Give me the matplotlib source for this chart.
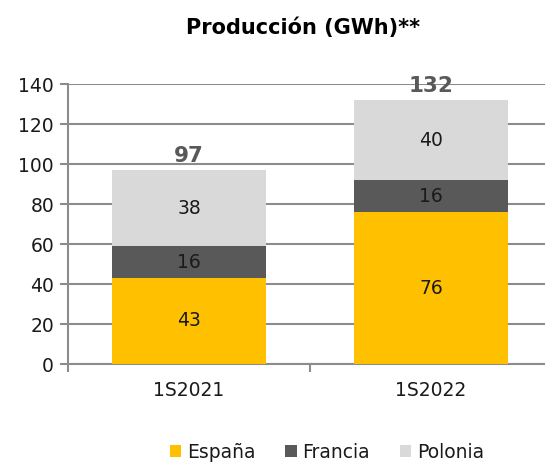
import matplotlib
matplotlib.use("Agg")
import matplotlib.pyplot as plt
import numpy as np

categories = ["1S2021", "1S2022"]
espana = [43, 76]
francia = [16, 16]
polonia = [38, 40]
totals = [97, 132]
series_names = ["España", "Francia", "Polonia"]
colors = ["#FFC000", "#595959", "#D9D9D9"]
yticks = [0, 20, 40, 60, 80, 100, 120, 140]

plt.rcParams['font.family'] = ['DejaVu Sans']
fig = plt.figure(figsize=(5.45, 4.62), dpi=100)
W, H = 545, 462
ax = fig.add_axes([68 / W, (H - 364) / H, 484 / W, 280 / H])

x = np.arange(len(categories))
width = 0.64
bottom = np.zeros(len(categories))
for vals, col, name in zip([espana, francia, polonia], colors, series_names):
    ax.bar(x, vals, width, bottom=bottom, color=col, label=name, zorder=3)
    for xi, b, v in zip(x, bottom, vals):
        ax.text(xi, b + v / 2, str(v), ha='center', va='center', fontsize=13.5,
                color='#1A1A1A', zorder=4)
    bottom = bottom + np.array(vals)

for xi, t in zip(x, totals):
    ax.text(xi, t + 2, str(t), ha='center', va='bottom', fontsize=15.5,
            fontweight='bold', color='#595959')

ax.set_xlim(-0.5, 1.5)
ax.set_ylim(0, 140)
ax.set_yticks(yticks)
ax.set_yticklabels([str(v) for v in yticks], fontsize=13.5, color='#1A1A1A')
ax.yaxis.grid(True, color='#8C8C8C', linewidth=1.5, zorder=0)
ax.set_axisbelow(True)
for s in ['top', 'right']:
    ax.spines[s].set_visible(False)
for s in ['left', 'bottom']:
    ax.spines[s].set_color('#8C8C8C')
    ax.spines[s].set_linewidth(1.5)
ax.tick_params(axis='y', length=6, width=1.5, color='#8C8C8C', pad=4)
ax.set_xticks([-0.5, 0.5, 1.5])
ax.set_xticklabels([])
ax.set_xticks(x, minor=True)
ax.set_xticklabels(categories, minor=True, fontsize=13.5, color='#1A1A1A')
ax.tick_params(axis='x', which='major', length=6, width=1.5, color='#8C8C8C')
ax.tick_params(axis='x', which='minor', length=0, pad=12)

fig.text(303 / W, 1 - 28 / H, "Producción (GWh)**", ha='center', va='center',
         fontsize=15, fontweight='bold', color='#000000')

handles, labels = ax.get_legend_handles_labels()
fig.legend(handles, labels, loc='center', bbox_to_anchor=(327 / W, 1 - 452 / H),
           ncol=3, frameon=False, fontsize=13.5, handlelength=0.6, handleheight=0.6,
           handletextpad=0.3, columnspacing=1.6, labelcolor='#1A1A1A')

fig.savefig("out.png", dpi=100)
